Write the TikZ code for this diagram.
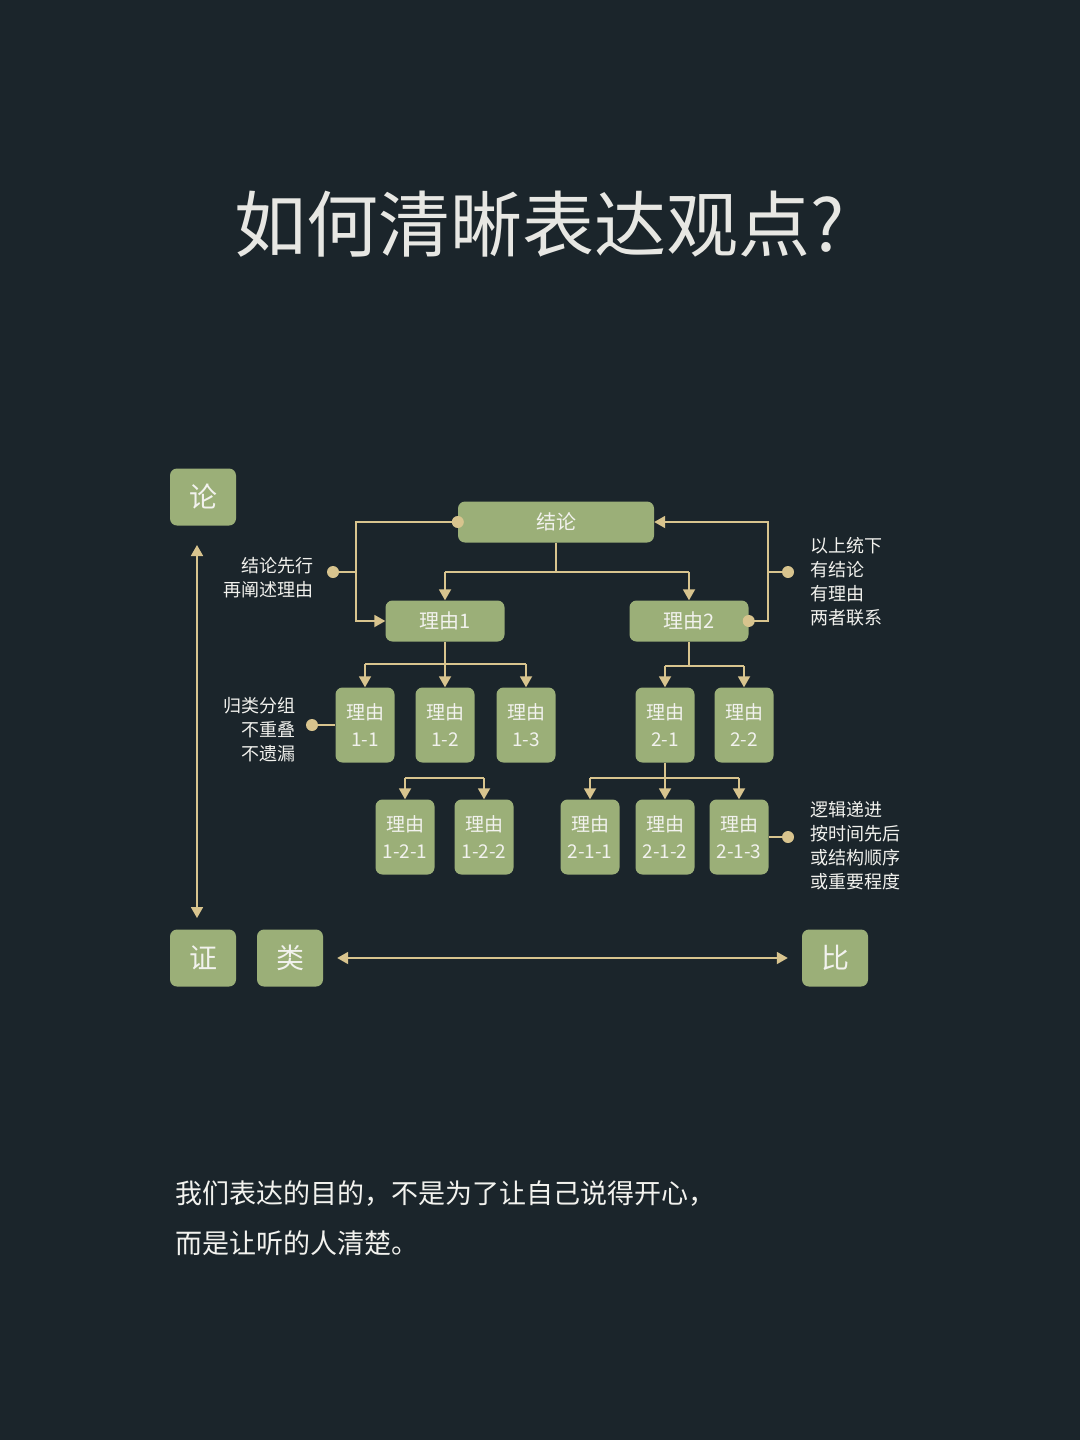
\documentclass[tikz,border=0pt]{standalone}
\usepackage{fontspec}
\setmainfont{Noto Sans CJK SC}
\usetikzlibrary{arrows.meta}
\definecolor{bg}{HTML}{1B252B}
\definecolor{gbox}{HTML}{9BAF78}
\definecolor{ln}{HTML}{D8C48E}
\definecolor{tx}{HTML}{F2F2EE}
\begin{document}
\begin{tikzpicture}[x=1pt,y=-1pt,
 box/.style={fill=gbox,rounded corners=7pt,text=tx,font=\fontsize{20}{24}\selectfont,align=center,inner sep=0pt},
 wide/.style={box,minimum width=119pt,minimum height=41pt},
 sq/.style={box,minimum width=59pt,minimum height=75pt,font=\fontsize{19}{27}\selectfont},
 big/.style={box,minimum width=66pt,minimum height=57pt,font=\fontsize{28}{30}\selectfont},
 con/.style={draw=ln,line width=1.8pt},
 tip/.tip={Triangle[width=12pt,length=11pt]},
 arr/.style={con,-tip},
 dot/.style={circle,fill=ln,inner sep=0pt,minimum size=12pt},
 lab/.style={text=tx,font=\fontsize{18}{24}\selectfont,inner sep=0pt}]
\fill[bg] (0,0) rectangle (1080,1440);
\useasboundingbox (0,0) rectangle (1080,1440);
\node[text=tx!90!gray,font=\fontsize{72}{76}\selectfont] (title) at (540,224) {如何清晰表达观点?};
% nodes
\node[big] (lun) at (203,497) {论};
\node[big] (zheng) at (203,958) {证};
\node[big] (lei) at (290,958) {类};
\node[big] (bi) at (835,958) {比};
\node[wide,minimum width=196pt] (jl) at (556,522) {结论};
\node[wide] (r1) at (445,621) {理由1};
\node[wide] (r2) at (689,621) {理由2};
\node[sq] (r11) at (365,725) {理由\\1-1};
\node[sq] (r12) at (445,725) {理由\\1-2};
\node[sq] (r13) at (526,725) {理由\\1-3};
\node[sq] (r21) at (665,725) {理由\\2-1};
\node[sq] (r22) at (744,725) {理由\\2-2};
\node[sq] (r121) at (405,837) {理由\\1-2-1};
\node[sq] (r122) at (484,837) {理由\\1-2-2};
\node[sq] (r211) at (590,837) {理由\\2-1-1};
\node[sq] (r212) at (665,837) {理由\\2-1-2};
\node[sq] (r213) at (739,837) {理由\\2-1-3};
% dots
\node[dot] (dl) at (333,572) {};
\node[dot] (dr) at (788,572) {};
\node[dot] (dg) at (312,725) {};
\node[dot] (dz) at (788,837) {};
\node[dot] (djl) at (jl.west) {};
\node[dot] (dr2) at (r2.east) {};
% labels
\node[lab,anchor=east,align=right] (l1) at (314,578) {结论先行\\再阐述理由};
\node[lab,anchor=west,align=left] (l2) at (810,582) {以上统下\\有结论\\有理由\\两者联系};
\node[lab,anchor=east,align=right] (l3) at (296,730) {归类分组\\不重叠\\不遗漏};
\node[lab,anchor=west,align=left] (l4) at (810,846) {逻辑递进\\按时间先后\\或结构顺序\\或重要程度};
% connectors
\draw[arr] (djl.center) -| (356,572) |- (r1.west);
\draw[con] (dl.center) -- (356,572);
\draw[arr] (dr2.center) -| (768,572) |- (jl.east);
\draw[con] (dr.center) -- (768,572);
\draw[con] (jl.south) -- (556,572);
\draw[arr] (445,572) -- (r1.north);
\draw[arr] (689,572) -- (r2.north);
\draw[con] (445,572) -- (689,572);
\draw[con] (r1.south) -- (445,664);
\draw[con] (365,664) -- (526,664);
\foreach \n in {r11,r12,r13} \draw[arr] (\n.north |- 0,664) -- (\n.north);
\draw[con] (r2.south) -- (689,666);
\draw[con] (665,666) -- (744,666);
\foreach \n in {r21,r22} \draw[arr] (\n.north |- 0,666) -- (\n.north);
\draw[con] (405,778) -- (484,778);
\foreach \n in {r121,r122} \draw[arr] (\n.north |- 0,778) -- (\n.north);
\draw[con] (r21.south) -- (665,778);
\draw[con] (590,778) -- (739,778);
\foreach \n in {r211,r212,r213} \draw[arr] (\n.north |- 0,778) -- (\n.north);
\draw[con] (dg.center) -- (r11.west);
\draw[con] (dz.center) -- (r213.east);
\draw[con,tip-tip] (197,545) -- (197,918);
\draw[con,tip-tip] ([xshift=14pt]lei.east) -- ([xshift=-14pt]bi.west);
% bottom text
\node[text=tx,font=\fontsize{27}{50}\selectfont,anchor=north west,align=left,inner sep=0pt] (bt) at (175,1180) {我们表达的目的，不是为了让自己说得开心，\\而是让听的人清楚。};
\end{tikzpicture}
\end{document}
